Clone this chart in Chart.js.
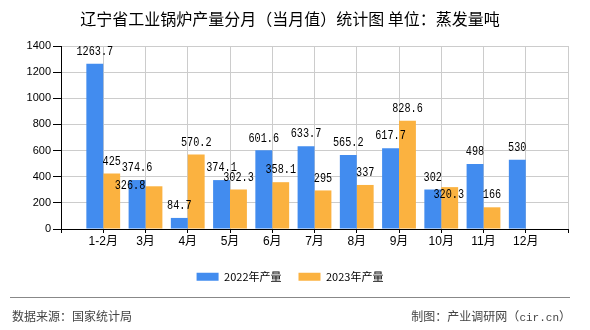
<!DOCTYPE html>
<html>
<head>
<meta charset="utf-8">
<script src="https://cdn.jsdelivr.net/npm/chart.js@4/dist/chart.umd.min.js"></script>
<style>
  html, body { margin: 0; padding: 0; background: #fff; }
  #wrap { position: relative; width: 590px; height: 330px; overflow: hidden; background: #fff; }
  #c { position: absolute; left: 0; top: 0; }
  #rule { position: absolute; left: 10px; top: 297px; width: 560px; height: 0; border-top: 1px solid #888; }
  .foot { position: absolute; top: 307px; font: 12px "Noto Sans CJK SC", sans-serif; color: #444; line-height: 18px; white-space: nowrap; }
  #src { left: 12px; }
  #maker { right: 19px; }
  #maker .mono { font-family: "Liberation Mono", monospace; font-size: 11px; }
</style>
</head>
<body>
<div id="wrap">
  <canvas id="c" width="590" height="330"></canvas>
  <div id="rule"></div>
  <div class="foot" id="src">数据来源：国家统计局</div>
  <div class="foot" id="maker">制图：产业调研网（<span class="mono">cir.cn</span>）</div>
</div>
<script>
// ---- data ----
const months = ['1-2月', '3月', '4月', '5月', '6月', '7月', '8月', '9月', '10月', '11月', '12月'];
const output2022 = [1263.7, 374.6, 84.7, 374.1, 601.6, 633.7, 565.2, 617.7, 302, 498, 530];
const output2023 = [425, 326.8, 570.2, 302.3, 358.1, 295, 337, 828.6, 320.3, 166, null];
const seriesNames = ['2022年产量', '2023年产量'];
const yMin = 0, yMax = 1400, yStep = 200;
const titleText = '辽宁省工业锅炉产量分月（当月值）统计图 单位：蒸发量吨';

// axis has an empty slot before the first and after the last month
const axisLabels = [''].concat(months, ['']);
const pad = arr => [null].concat(arr, [null]);

const valueLabels = {
  id: 'valueLabels',
  afterDatasetsDraw(chart, args, opts) {
    const ctx = chart.ctx;
    chart.data.datasets.forEach((ds, di) => {
      const meta = chart.getDatasetMeta(di);
      meta.data.forEach((bar, i) => {
        const v = ds.data[i];
        if (v === null || v === undefined) return;
        const sh = ((opts.shifts || {})[di] || {})[chart.data.labels[i]] || [0, 0];
        const x = bar.x + sh[0];
        const y = bar.y - opts.gap + sh[1];
        ctx.save();
        ctx.font = opts.font;
        ctx.fillStyle = '#000';
        ctx.textAlign = 'center';
        ctx.textBaseline = 'middle';
        ctx.translate(x, y);
        ctx.scale(opts.squeeze, 1);
        ctx.fillText(String(v), 0, 0);
        ctx.restore();
      });
    });
  }
};

new Chart(document.getElementById('c'), {
  type: 'bar',
  data: {
    labels: axisLabels,
    datasets: [
      { label: seriesNames[0], data: pad(output2022), backgroundColor: '#428CEF', categoryPercentage: 0.8, barPercentage: 1.0 },
      { label: seriesNames[1], data: pad(output2023), backgroundColor: '#FBB240', categoryPercentage: 0.8, barPercentage: 1.0 }
    ]
  },
  options: {
    responsive: false,
    devicePixelRatio: 1,
    animation: false,
    layout: { padding: { left: 12, right: 22, top: 0, bottom: 37.7 } },
    plugins: {
      title: {
        display: true,
        text: titleText,
        color: '#000',
        font: { family: '"Noto Sans CJK SC", sans-serif', size: 16, weight: 'normal', lineHeight: 1.2 },
        padding: { top: 9.4, bottom: 17.4 }
      },
      legend: {
        position: 'bottom',
        labels: {
          boxWidth: 22, boxHeight: 8, padding: 17, color: '#000',
          font: { family: '"Noto Sans CJK SC", sans-serif', size: 11 }
        }
      },
      tooltip: { enabled: false },
      valueLabels: {
        font: '12px "Liberation Mono", monospace',
        squeeze: 0.85,
        gap: 12,
        shifts: { 1: { '3月': [-24, 12], '10月': [-1, 20] } }
      }
    },
    scales: {
      x: {
        offset: false,
        grid: { offset: false, color: '#cccccc', tickColor: '#000', tickLength: 4, drawTicks: true },
        border: { color: '#000', width: 1 },
        ticks: {
          autoSkip: false, maxRotation: 0, padding: 1, color: '#000',
          font: { family: '"Liberation Sans", "Noto Sans CJK SC", sans-serif', size: 12 }
        },
        afterFit(s) { s.height = 25.3; }
      },
      y: {
        min: yMin, max: yMax,
        grid: { color: '#cccccc', tickColor: '#000', tickLength: 8 },
        border: { color: '#000', width: 1 },
        ticks: {
          stepSize: yStep, padding: 2, color: '#000',
          font: { family: '"Liberation Sans", sans-serif', size: 11 },
          callback: v => String(v)
        },
        afterFit(s) { s.width = 49; }
      }
    }
  },
  plugins: [valueLabels]
});
</script>
</body>
</html>
